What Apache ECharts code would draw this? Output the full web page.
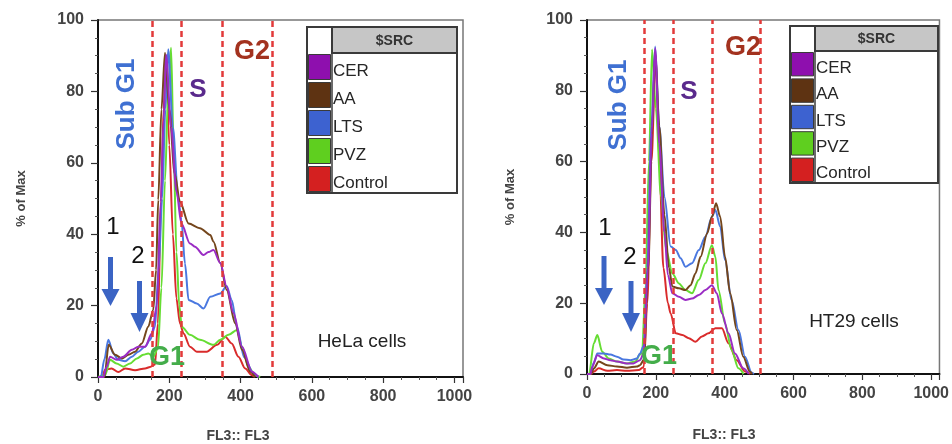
<!DOCTYPE html>
<html>
<head>
<meta charset="utf-8">
<script src="https://cdn.jsdelivr.net/npm/echarts@6/dist/echarts.min.js"></script>
<style>
html,body{margin:0;padding:0;background:#fff;}
#chart{width:952px;height:444px;}
</style>
</head>
<body>
<div id="chart"></div>
<script>
// ---- data ----
var seriesNames = ['CER', 'AA', 'LTS', 'PVZ', 'Control'];
var xTicks = [0, 200, 400, 600, 800, 1000];
var yTicks = [0, 20, 40, 60, 80, 100];

// HeLa cells: [FL3 channel, % of Max]
var helaCER = [[0,0],[15,0],[24,2.8],[34,5.7],[52,4.8],[71,5.7],[95,7.6],[113,8.5],[132,8.5],[151,12.2],[165,20],[176,49],[184,72],[191,90.3],[205,70],[220,52],[234,43],[258,37.4],[272,36.5],[296,34.2],[310,35],[324,35.6],[343,31.9],[361,25.3],[380,17.9],[404,8.5],[432,1.5],[450,0]];
var helaAA = [[0,0],[18,0],[30,9],[48,6.2],[67,5.2],[85,6.2],[104,7.1],[123,9.4],[141,14.1],[155,18.8],[163,30],[169,49.6],[178,75],[188,90.8],[200,75],[215,57],[230,49.1],[254,43],[286,41.7],[315,39.8],[324,37.9],[343,31.9],[361,24.4],[385,15],[404,7.6],[427,1.5],[441,0]];
var helaLTS = [[0,0],[8,0],[18,5],[29,10.4],[43,6.6],[57,4.8],[76,4.4],[95,5.7],[113,7.1],[132,8.5],[146,10.4],[160,14.1],[170,30],[180,50],[189,75],[197,91.8],[210,70],[225,50],[234,44],[244,31.8],[254,21.6],[277,20.6],[296,19.2],[315,22.5],[343,23.4],[361,25.5],[375,21.6],[390,14],[410,5.5],[436,1],[450,0]];
var helaPVZ = [[0,0],[20,0.5],[34,4.8],[52,3.8],[71,2.9],[90,3.8],[109,5.2],[127,6.2],[141,6.6],[155,5.7],[168,8],[178,25],[188,55],[197,80],[205,92.2],[212,65],[220,35],[228,20],[235,14.1],[258,11.8],[286,10.4],[324,9],[343,10.4],[366,11.8],[390,13.2],[404,8.5],[422,2.9],[441,0.4],[455,0]];
var helaControl = [[0,0],[11,0],[20,2],[38,2.4],[57,1.4],[76,2.4],[104,1.9],[132,2.4],[146,2.8],[160,3.5],[168,15],[177,50],[184,75],[191,90],[200,65],[210,40],[220,22],[230,15],[240,12.2],[258,8.5],[277,7.1],[305,7.1],[334,9],[357,11.3],[375,9.4],[394,5.7],[413,2.4],[432,0.5],[440,0]];
var helaGates = [152, 234, 348, 488];

// HT29 cells
var ht29CER = [[0,0],[10,0],[15,2],[30,5.3],[49,4.4],[68,3.9],[87,3.5],[116,3],[135,3],[154,3.9],[165,6],[177,30],[188,68],[198,92],[210,65],[225,40],[235,28],[248,22.8],[267,21.8],[286,20.9],[305,21.3],[325,22.3],[344,23.7],[363,25.1],[377,22.8],[392,17.1],[411,11.5],[430,5.8],[454,1.6],[470,0]];
var ht29AA = [[0,0],[12,0],[20,1.6],[34,3.5],[59,2.5],[87,2.1],[116,1.8],[145,2.1],[154,2.5],[165,4],[178,30],[189,68],[198,91],[210,70],[225,45],[238,30],[248,24.7],[267,24.2],[286,23.7],[301,25.1],[315,28.4],[330,33.1],[349,39.7],[363,44.4],[375,48.2],[387,44.4],[401,33.1],[416,22.8],[435,12.4],[454,4.9],[473,0.7],[480,0]];
var ht29LTS = [[0,0],[10,0],[20,3.3],[30,5.8],[49,5.8],[68,5.5],[87,4.9],[106,4.1],[126,3.9],[145,4.4],[154,5.8],[165,8],[175,30],[187,70],[198,92.5],[210,70],[225,50],[243,36],[258,35],[272,32.7],[286,30.3],[305,31.3],[325,35],[344,38.8],[363,44.4],[373,46.3],[387,41.6],[401,32.2],[420,20.9],[440,12.4],[459,4.9],[478,0.4],[485,0]];
var ht29PVZ = [[0,0],[6,0],[20,8.7],[30,11],[44,6.3],[63,4.4],[87,3.5],[116,3],[140,3.5],[154,5.5],[160,6],[170,25],[180,60],[189,91.7],[200,75],[215,50],[230,35],[248,28.4],[267,25.6],[286,23.7],[305,22.8],[325,26.6],[344,31.3],[363,36.4],[373,33.1],[382,23.7],[401,14.3],[420,6.8],[440,1.6],[455,0]];
var ht29Control = [[0,0],[12,0],[20,0.7],[34,1.6],[59,0.9],[87,1.1],[116,0.9],[150,1.1],[165,2],[175,20],[187,60],[200,90],[210,60],[222,30],[235,20],[243,17.1],[258,11.5],[277,11],[296,10.1],[315,9.1],[334,10.6],[353,11.5],[373,12.9],[392,12.9],[411,8.7],[435,3.9],[459,0.7],[475,0]];
var ht29Gates = [166, 252, 363, 503];

// ---- styles ----
var lineColors = ['#9a2cc4', '#74461c', '#4a78e0', '#66dd33', '#d92b2b'];
var swatchColors = ['#8e0fae', '#5e3312', '#3d62d0', '#5fcf1f', '#d42020'];
var FONT = '"Liberation Sans", Arial, sans-serif';

var helaData = [helaCER, helaAA, helaLTS, helaPVZ, helaControl];
var ht29Data = [ht29CER, ht29AA, ht29LTS, ht29PVZ, ht29Control];

function makeAxisX(gi) {
  return {
    type: 'value', gridIndex: gi, min: 0, max: 1024, interval: 200,
    axisLine: { show: true, onZero: false, lineStyle: { color: '#111', width: 2 } },
    axisTick: { show: true, length: 6, lineStyle: { color: '#333', width: 1.2 } },
    minorTick: { show: true, splitNumber: 4, length: 3, lineStyle: { color: '#555' } },
    splitLine: { show: false },
    axisLabel: { fontSize: 16, color: '#444', fontFamily: FONT, fontWeight: 'bold', margin: 12, showMaxLabel: false,
                 formatter: function (v) { return xTicks.indexOf(v) >= 0 ? String(v) : ''; } }
  };
}
function makeAxisY(gi) {
  return {
    type: 'value', gridIndex: gi, min: 0, max: 100, interval: 20,
    name: '% of Max', nameLocation: 'middle', nameGap: 70,
    nameTextStyle: { fontSize: 13, color: '#444', fontFamily: FONT, fontWeight: 'bold' },
    axisLine: { show: true, lineStyle: { color: '#111', width: 2 } },
    axisTick: { show: true, length: 7, lineStyle: { color: '#333', width: 1.2 } },
    minorTick: { show: true, splitNumber: 4, length: 3, lineStyle: { color: '#555' } },
    splitLine: { show: false },
    axisLabel: { fontSize: 16, color: '#444', fontFamily: FONT, fontWeight: 'bold', margin: 14,
                 formatter: function (v) { return yTicks.indexOf(v) >= 0 ? String(v) : ''; } }
  };
}

var series = [];
function addSeries(dataList, gi, gates) {
  dataList.forEach(function (d, i) {
    var s = {
      name: seriesNames[i], type: 'line', xAxisIndex: gi, yAxisIndex: gi,
      data: d, showSymbol: false, smooth: 0.3, smoothMonotone: 'x',
      lineStyle: { color: lineColors[i], width: 2 }, itemStyle: { color: lineColors[i] },
      z: 3 + (4 - i) * 0.1, silent: true
    };
    if (i === 4) {
      s.markLine = {
        silent: true, symbol: 'none', label: { show: false },
        lineStyle: { color: '#e23a3a', width: 2.5, type: [6, 4] },
        data: gates.map(function (g) { return { xAxis: g }; })
      };
    }
    series.push(s);
  });
}
addSeries(helaData, 0, helaGates);
addSeries(ht29Data, 1, ht29Gates);

// ---- annotation graphics ----
var graphics = [];
function txt(x, y, text, size, color, weight, rot) {
  graphics.push({
    type: 'text', x: x, y: y, rotation: rot || 0, z: 20,
    style: { text: text, fontSize: size, fontFamily: FONT, fontWeight: weight || 'normal',
             fill: color, textAlign: 'center', textVerticalAlign: 'middle' }
  });
}
function arrow(x, y0, yh, yt) {
  graphics.push({ type: 'line', z: 20, shape: { x1: x, y1: y0, x2: x, y2: yh + 2 },
                  style: { stroke: '#3b64c4', lineWidth: 5 } });
  graphics.push({ type: 'polygon', z: 20, shape: { points: [[x - 9, yh], [x + 9, yh], [x, yt]] },
                  style: { fill: '#3b64c4' } });
}
function legendTable(x, y, w, hh, rh) {
  var h = hh + rh * seriesNames.length;
  graphics.push({ type: 'rect', z: 15, shape: { x: x, y: y, width: w, height: h },
                  style: { fill: '#fff', stroke: '#3a3a3a', lineWidth: 2 } });
  graphics.push({ type: 'rect', z: 16, shape: { x: x + 25, y: y, width: w - 25, height: hh },
                  style: { fill: '#c6c6c6', stroke: '#3a3a3a', lineWidth: 2 } });
  graphics.push({ type: 'line', z: 16, shape: { x1: x + 25, y1: y, x2: x + 25, y2: y + h },
                  style: { stroke: '#3a3a3a', lineWidth: 1.5 } });
  graphics.push({ type: 'text', z: 17, x: x + 25 + (w - 25) / 2, y: y + hh / 2 + 1,
                  style: { text: '$SRC', fontSize: 14, fontWeight: 'bold', fontFamily: FONT, fill: '#333',
                           textAlign: 'center', textVerticalAlign: 'middle' } });
  seriesNames.forEach(function (n, i) {
    var ry = y + hh + i * rh;
    graphics.push({ type: 'rect', z: 16, shape: { x: x + 1.5, y: ry + 1.5, width: 22, height: rh - 3 },
                    style: { fill: swatchColors[i], stroke: '#3a3a3a', lineWidth: 1 } });
    graphics.push({ type: 'text', z: 17, x: x + 26, y: ry + rh / 2 + 4,
                    style: { text: n, fontSize: 17, fontFamily: FONT, fill: '#262626',
                             textAlign: 'left', textVerticalAlign: 'middle' } });
  });
}

// left panel
txt(127, 104, 'Sub G1', 26, '#3f70d2', 'bold', Math.PI / 2);
txt(198, 90, 'S', 26, '#5a2a8c', 'bold');
txt(252, 52, 'G2', 27, '#a3321f', 'bold');
txt(113, 227, '1', 24, '#111');
txt(138, 256, '2', 24, '#111');
txt(167, 358, 'G1', 27, '#44ad4a', 'bold');
txt(362, 342, 'HeLa cells', 19, '#222');
txt(238, 436, 'FL3:: FL3', 14, '#444', 'bold');
arrow(110.5, 257, 289, 306);
arrow(139.5, 281, 313, 332);
legendTable(307, 27, 150, 26, 28);

// right panel
txt(619, 105, 'Sub G1', 26, '#3f70d2', 'bold', Math.PI / 2);
txt(689, 92, 'S', 26, '#5a2a8c', 'bold');
txt(743, 48, 'G2', 27, '#a3321f', 'bold');
txt(605, 228, '1', 24, '#111');
txt(630, 257, '2', 24, '#111');
txt(659, 357, 'G1', 27, '#44ad4a', 'bold');
txt(854, 322, 'HT29 cells', 19, '#222');
txt(724, 435, 'FL3:: FL3', 14, '#444', 'bold');
arrow(604, 256, 288, 305);
arrow(631, 281, 313, 332);
legendTable(790, 26, 148, 25, 26.4);

var chart = echarts.init(document.getElementById('chart'), null, { renderer: 'canvas' });
chart.setOption({
  animation: false,
  backgroundColor: '#fff',
  grid: [
    { left: 98, top: 20, width: 365, height: 357, show: true, borderColor: '#777', borderWidth: 1.5, backgroundColor: 'transparent' },
    { left: 587, top: 20, width: 356, height: 354, show: true, borderColor: '#777', borderWidth: 1.5, backgroundColor: 'transparent' }
  ],
  xAxis: [makeAxisX(0), makeAxisX(1)],
  yAxis: [makeAxisY(0), makeAxisY(1)],
  series: series,
  graphic: graphics
});
</script>
</body>
</html>
